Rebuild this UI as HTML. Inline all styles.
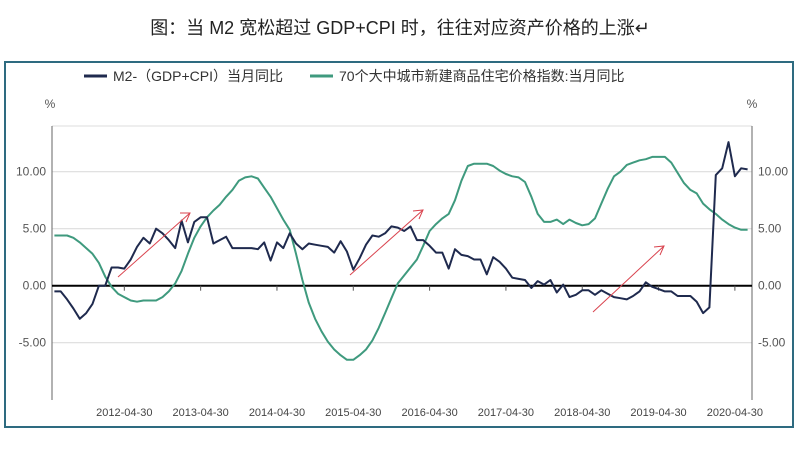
<!DOCTYPE html>
<html><head><meta charset="utf-8"><style>
body{margin:0;background:#fff;width:799px;height:445px;overflow:hidden;font-family:"Liberation Sans","Noto Sans CJK SC",sans-serif}
</style></head><body>
<svg id="c" width="799" height="445" xmlns="http://www.w3.org/2000/svg">
<text x="400" y="34" text-anchor="middle" font-size="18" fill="#222" font-family="Liberation Sans, Noto Sans CJK SC, sans-serif">图：当 M2 宽松超过 GDP+CPI 时，往往对应资产价格的上涨↵</text>
<rect x="5" y="62" width="788" height="365" fill="none" stroke="#2e6b80" stroke-width="2"/>
<g>
<line x1="84" y1="76" x2="107" y2="76" stroke="#1f2a4e" stroke-width="3"/>
<text x="113" y="81" font-size="14" fill="#333">M2-（GDP+CPI）当月同比</text>
<line x1="310" y1="76" x2="333" y2="76" stroke="#3f9a7e" stroke-width="3"/>
<text x="339" y="81" font-size="14" fill="#333">70个大中城市新建商品住宅价格指数:当月同比</text>
</g>
<text x="50" y="108" font-size="12" fill="#555" text-anchor="middle">%</text>
<text x="752" y="108" font-size="12" fill="#555" text-anchor="middle">%</text>
<g id="axes"></g>
<g id="series"></g>
<g stroke="#d9434e" stroke-width="1" fill="none">
<line x1="118" y1="277" x2="190" y2="213"/><path d="M180,213 L190,213 L186,222"/>
<line x1="350" y1="275" x2="423" y2="210"/><path d="M413,211 L423,210 L419,219"/>
<line x1="593" y1="312" x2="664" y2="246"/><path d="M654,247 L664,246 L660,255"/>
</g>
</svg>
<script>
const startYear=2011, startMonth=5;
const m2Values=[-0.5,-0.5,-1.2,-2.0,-2.9,-2.4,-1.6,0,0,1.6,1.6,1.5,2.3,3.4,4.2,3.7,5.0,4.6,4.0,3.3,5.7,3.8,5.6,6.0,6.0,3.7,4.0,4.3,3.3,3.3,3.3,3.3,3.2,3.8,2.2,3.8,3.3,4.6,3.7,3.2,3.7,3.6,3.5,3.4,2.9,3.9,3.0,1.4,2.4,3.6,4.4,4.3,4.6,5.2,5.1,4.8,5.2,4.0,4.0,3.5,2.9,2.9,1.5,3.2,2.7,2.6,2.3,2.3,1.0,2.5,2.1,1.5,0.7,0.6,0.5,-0.2,0.4,0.1,0.5,-0.6,0.1,-1.0,-0.8,-0.4,-0.4,-0.8,-0.4,-0.7,-1.0,-1.1,-1.2,-0.9,-0.5,0.3,-0.1,-0.3,-0.5,-0.5,-0.9,-0.9,-0.9,-1.4,-2.4,-1.9,9.7,10.3,12.6,9.6,10.3,10.2];
const houseValues=[4.4,4.4,4.4,4.2,3.8,3.3,2.8,2.0,0.8,-0.1,-0.7,-1.0,-1.3,-1.4,-1.3,-1.3,-1.3,-1.0,-0.5,0.2,1.3,2.8,4.2,5.2,6.0,6.6,7.1,7.8,8.4,9.2,9.5,9.6,9.4,8.6,7.8,6.8,5.8,4.9,2.8,0.5,-1.5,-2.9,-4.0,-4.9,-5.6,-6.1,-6.5,-6.5,-6.1,-5.6,-4.8,-3.7,-2.4,-1.1,0.2,0.9,1.6,2.3,3.5,4.8,5.4,5.9,6.3,7.5,9.2,10.5,10.7,10.7,10.7,10.5,10.1,9.8,9.6,9.5,9.1,7.8,6.3,5.6,5.6,5.8,5.4,5.8,5.5,5.3,5.4,5.9,7.2,8.5,9.6,10.0,10.6,10.8,11.0,11.1,11.3,11.3,11.3,10.8,9.9,9.0,8.4,8.1,7.2,6.7,6.3,5.8,5.4,5.1,4.9,4.9];
const yTicks=[10,5,0,-5];
const yTickLabels=["10.00","5.00","0.00","-5.00"];
const xTickLabels=["2012-04-30","2013-04-30","2014-04-30","2015-04-30","2016-04-30","2017-04-30","2018-04-30","2019-04-30","2020-04-30"];
const NS="http://www.w3.org/2000/svg";
const L=52,R=752,T=126,B=400;
// month index 0 = start month (2011-05); 2011-04-30 at x=48
function xScale(i){return 48+6.36*(i+1);}
function xDate(s){const y=+s.slice(0,4),m=+s.slice(5,7);return xScale((y-startYear)*12+(m-startMonth));}
function yScale(v){return 285.7-v*11.4;}
function mk(tag,attrs,parent){const e=document.createElementNS(NS,tag);for(const k in attrs)e.setAttribute(k,attrs[k]);parent.appendChild(e);return e;}
const ax=document.getElementById('axes');
let g=mk('line',{x1:L,y1:T,x2:R,y2:T,stroke:'#ddd'},ax);


yTicks.forEach((v,k)=>{
  const y=yScale(v);
  if(v!==0){const gl=mk('line',{x1:L,y1:y,x2:R,y2:y,stroke:'#ddd','stroke-width':1.2},ax);
    
    }
  const tl=mk('text',{x:46,y:y+4,'text-anchor':'end','font-size':12,fill:'#555'},ax);tl.textContent=yTickLabels[k];
  
  
  const tr=mk('text',{x:758,y:y+4,'font-size':12,fill:'#555'},ax);tr.textContent=yTickLabels[k];
  
  
});
let la=mk('line',{x1:L,y1:T,x2:L,y2:B,stroke:'#666'},ax);


let ra=mk('line',{x1:R,y1:T,x2:R,y2:B,stroke:'#666'},ax);


let z=mk('line',{x1:L,y1:yScale(0),x2:R,y2:yScale(0),stroke:'#000','stroke-width':2},ax);


xTickLabels.forEach(s=>{
  const x=xDate(s);
  const tk=mk('line',{x1:x,y1:yScale(0),x2:x,y2:yScale(0)+5,stroke:'#555'},ax);
  
  
  const t=mk('text',{x:x,y:416,'text-anchor':'middle','font-size':11,fill:'#444'},ax);t.textContent=s;
  
  
});
const se=document.getElementById('series');
function line(vals,color,name){
  const d=vals.map((v,i)=>(i?'L':'M')+xScale(i).toFixed(1)+','+yScale(v).toFixed(1)).join(' ');
  const p=mk('path',{d:d,fill:'none',stroke:color,'stroke-width':2,'stroke-linejoin':'round'},se);
  
  
}
line(houseValues,'#3f9a7e','house-price-line');
line(m2Values,'#1f2a4e','m2-gap-line');
</script>
</body></html>
